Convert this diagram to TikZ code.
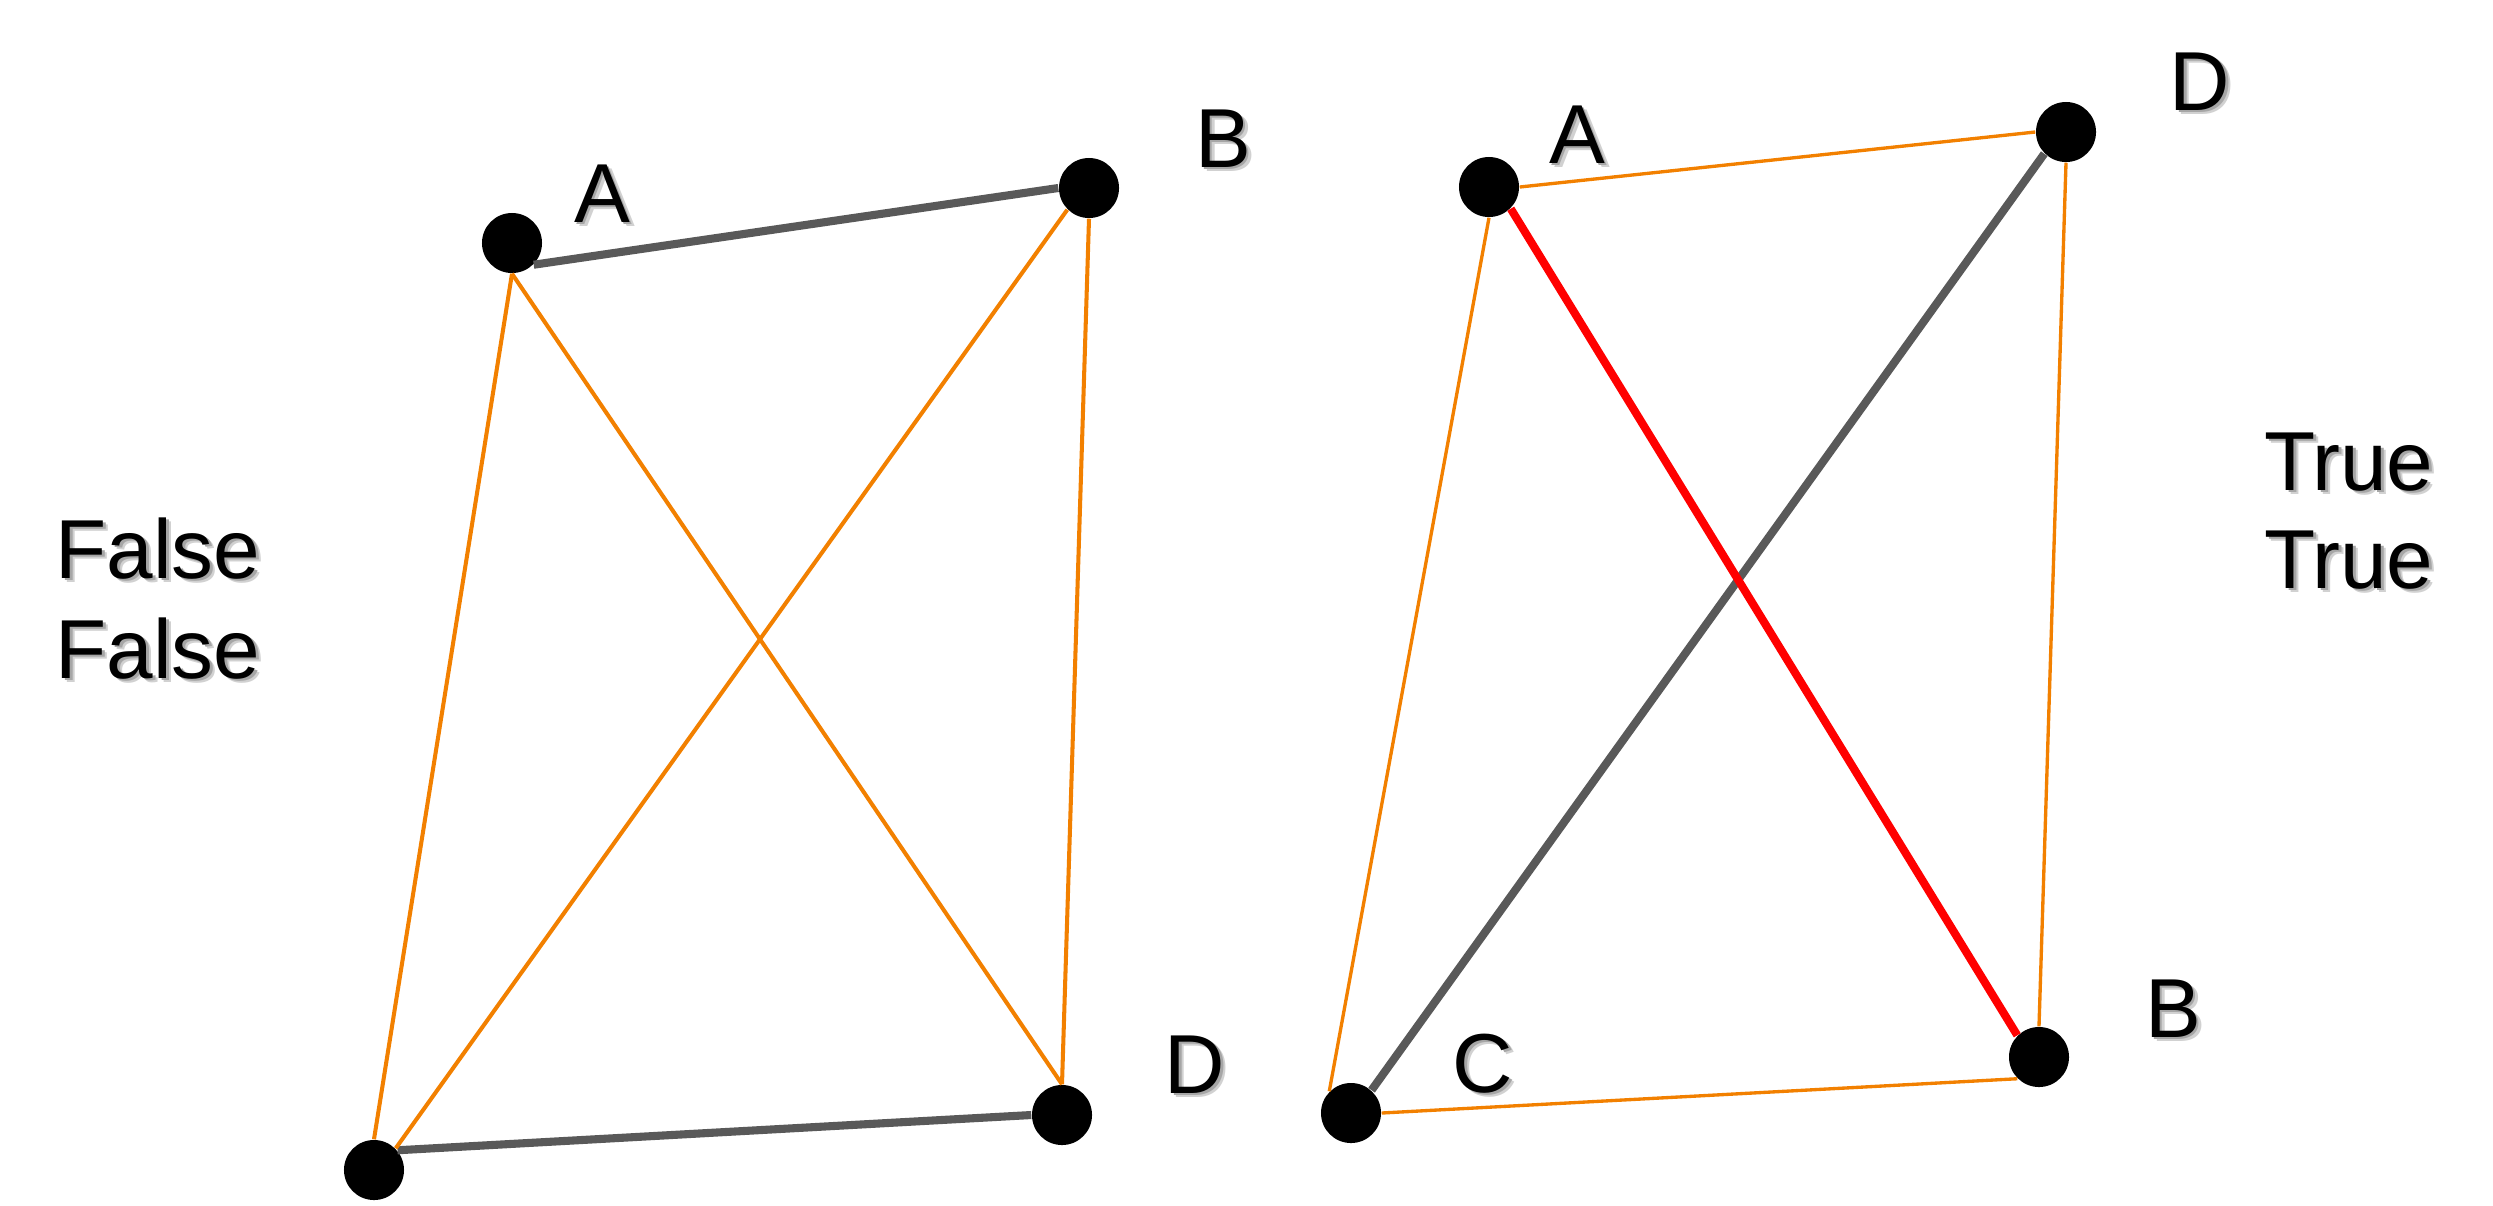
\documentclass[tikz,border=0pt]{standalone}
\usepackage{fontspec}
\setmainfont{Liberation Sans}
\usepackage{tikz}

\definecolor{edgeorange}{RGB}{242,128,0}
\definecolor{edgegray}{RGB}{89,89,89}
\newcommand{\shadowed}[1]{%
  \makebox[0pt][l]{\kern1.4pt\raisebox{-1.4pt}{\textcolor{black!18}{#1}}}%
  \makebox[0pt][l]{\kern0.8pt\raisebox{-0.8pt}{\textcolor{black!35}{#1}}}#1}

\begin{document}
\begin{tikzpicture}[x=0.01cm, y=-0.01cm,
  dot/.style={circle, fill=black, minimum size=0.6cm, inner sep=0pt},
  lbl/.style={anchor=base, inner sep=0pt, font=\fontsize{23.8}{28}\selectfont},
  orange edge/.style={draw=edgeorange, line width=1.15pt},
  gray edge/.style={draw=edgegray, line width=2.3pt},
  red edge/.style={draw=red, line width=2.3pt}]
\useasboundingbox (0,0) rectangle (2493,1205);

% left graph
\node[dot] (lA) at (512,243) {};
\node[dot] (lB) at (1089,188) {};
\node[dot] (lC) at (374,1170) {};
\node[dot] (lD) at (1062,1115) {};
\draw[gray edge] (lA.-45) -- (lB.west);
\draw[gray edge] (lC.40) -- (lD.west);
\draw[orange edge] (lA.south) -- (lC.north);
\draw[orange edge] (lA.south) -- (lD.north);
\draw[orange edge] (lB.-135) -- (lC.45);
\draw[orange edge] (lB.south) -- (lD.north);
\node[lbl] (labA1) at (602,222) {\shadowed{A}};
\node[lbl] (labB1) at (1223,167) {\shadowed{B}};
\node[lbl] (labD1) at (1195,1093) {\shadowed{D}};
\node[lbl] (false1) at (158,578) {\shadowed{False}};
\node[lbl] (false2) at (158,678) {\shadowed{False}};

% right graph
\node[dot] (rA) at (1489,187) {};
\node[dot] (rD) at (2066,132) {};
\node[dot] (rC) at (1351,1113) {};
\node[dot] (rB) at (2039,1057) {};
\draw[orange edge, line width=0.95pt] (rA.east) -- (rD.west);
\draw[orange edge, line width=0.95pt] (rA.south) -- (rC.135);
\draw[orange edge, line width=0.95pt] (rD.south) -- (rB.north);
\draw[orange edge, line width=0.95pt] (rC.east) -- (rB.-135);
\draw[gray edge] (rD.-135) -- (rC.48);
\draw[red edge] (rA.-45) -- (rB.135);
\node[lbl] (labA2) at (1577,163) {\shadowed{A}};
\node[lbl] (labD2) at (2200,110) {\shadowed{D}};
\node[lbl] (labC2) at (1483,1092) {\shadowed{C}};
\node[lbl] (labB2) at (2173,1037) {\shadowed{B}};
\node[lbl] (true1) at (2349,490) {\shadowed{True}};
\node[lbl] (true2) at (2349,588) {\shadowed{True}};
\end{tikzpicture}
\end{document}
